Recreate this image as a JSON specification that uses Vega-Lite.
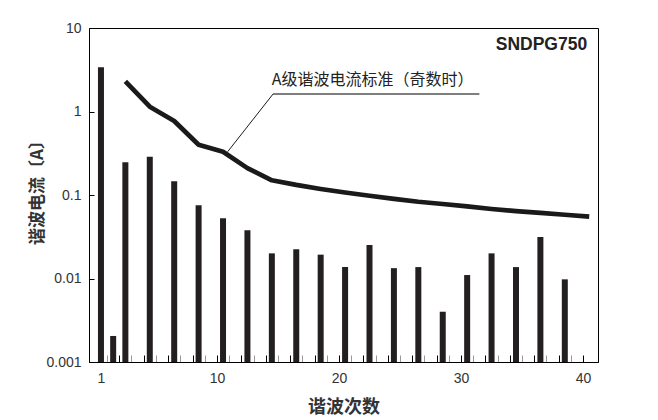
{
  "$schema": "https://vega.github.io/schema/vega-lite/v6.json",
  "width": 509,
  "height": 334,
  "autosize": {"type": "none"},
  "padding": {"left": 89, "top": 28, "right": 60, "bottom": 58},
  "background": "white",
  "view": {"stroke": "#000000", "strokeWidth": 1, "fill": "white"},
  "config": {
    "view": {"stroke": "#000000", "strokeWidth": 1},
    "font": "Liberation Sans",
    "axisX": {
      "titleFont": "Noto Sans CJK SC", "titleFontSize": 18, "titleFontWeight": "bold", "titleColor": "#333333",
      "titlePadding": 13, "labelOverlap": false, "labelFlush": false,
      "labelFontSize": 14, "labelColor": "#333333", "labelPadding": 16,
      "tickSize": -7, "tickWidth": 1, "domainColor": "#000000", "grid": false
    },
    "axisY": {
      "titleFont": "Noto Sans CJK SC", "titleFontSize": 17, "titleFontWeight": "bold", "titleColor": "#333333",
      "titleX": -52, "titleY": 160, "titleBaseline": "middle", "titleAlign": "center", "titleAngle": -90,
      "labelOverlap": false, "labelFontSize": 14, "labelColor": "#333333", "labelPadding": 13,
      "tickSize": -5, "tickColor": "#000000", "domainColor": "#000000", "grid": false
    }
  },
  "datasets": {
    "bars": [
      {"h": 1, "v": 3.38}, {"h": 2, "v": 0.00205}, {"h": 3, "v": 0.247}, {"h": 5, "v": 0.288},
      {"h": 7, "v": 0.146}, {"h": 9, "v": 0.0753}, {"h": 11, "v": 0.0526}, {"h": 13, "v": 0.0378},
      {"h": 15, "v": 0.020}, {"h": 17, "v": 0.0224}, {"h": 19, "v": 0.0193}, {"h": 21, "v": 0.0137},
      {"h": 23, "v": 0.0252}, {"h": 25, "v": 0.0133}, {"h": 27, "v": 0.0137}, {"h": 29, "v": 0.0040},
      {"h": 31, "v": 0.0110}, {"h": 33, "v": 0.0200}, {"h": 35, "v": 0.0137}, {"h": 37, "v": 0.0314},
      {"h": 39, "v": 0.00977}
    ],
    "limit": [
      {"h": 3, "v": 2.3}, {"h": 5, "v": 1.14}, {"h": 7, "v": 0.77}, {"h": 9, "v": 0.40},
      {"h": 11, "v": 0.33}, {"h": 13, "v": 0.21}, {"h": 15, "v": 0.15}, {"h": 17, "v": 0.132},
      {"h": 19, "v": 0.118}, {"h": 21, "v": 0.107}, {"h": 23, "v": 0.098}, {"h": 25, "v": 0.090},
      {"h": 27, "v": 0.083}, {"h": 29, "v": 0.078}, {"h": 31, "v": 0.073}, {"h": 33, "v": 0.068},
      {"h": 35, "v": 0.064}, {"h": 37, "v": 0.061}, {"h": 39, "v": 0.058}, {"h": 41, "v": 0.055}
    ],
    "notes": [
      {"label": "A级谐波电流标准（奇数时）", "model": "SNDPG750"}
    ]
  },
  "layer": [
    {
      "data": {"name": "bars"},
      "mark": {"type": "bar", "width": 6, "color": "#231f20"},
      "encoding": {
        "x": {"field": "h", "type": "quantitative", "scale": {"domain": [0.43, 41.31], "nice": false, "zero": false},
          "axis": {"title": "谐波次数", "values": [1, 1.5, 2.5, 3.5, 4.5, 5.5, 6.5, 7.5, 8.5, 9.5, 10.5, 11.5, 12.5, 13.5, 14.5, 15.5, 16.5, 17.5, 18.5, 19.5, 20.5, 21.5, 22.5, 23.5, 24.5, 25.5, 26.5, 27.5, 28.5, 29.5, 30.5, 31.5, 32.5, 33.5, 34.5, 35.5, 36.5, 37.5, 38.5, 39.5, 40.5], "labelExpr": "datum.value == 1 ? '1' : (datum.value % 10 == 0.5 ? format(datum.value - 0.5, 'd') : '')", "labelOverlap": false, "tickColor": {"condition": {"test": "floor(datum.value) % 2 == 1", "value": "#999999"}, "value": "#000000"}}},
        "y": {"field": "v", "type": "quantitative", "scale": {"type": "log", "domain": [0.001, 10], "nice": false},
          "axis": {"title": "谐波电流〔A〕", "values": [0.001, 0.01, 0.1, 1, 10], "format": "~g"}},
        "y2": {"datum": 0.001}
      }
    },
    {
      "data": {"name": "limit"},
      "mark": {"type": "line", "color": "#1a1a1a", "strokeWidth": 4.7, "strokeJoin": "round"},
      "encoding": {
        "x": {"field": "h", "type": "quantitative",
          "axis": {"title": "谐波次数", "values": [1, 1.5, 2.5, 3.5, 4.5, 5.5, 6.5, 7.5, 8.5, 9.5, 10.5, 11.5, 12.5, 13.5, 14.5, 15.5, 16.5, 17.5, 18.5, 19.5, 20.5, 21.5, 22.5, 23.5, 24.5, 25.5, 26.5, 27.5, 28.5, 29.5, 30.5, 31.5, 32.5, 33.5, 34.5, 35.5, 36.5, 37.5, 38.5, 39.5, 40.5], "labelExpr": "datum.value == 1 ? '1' : (datum.value % 10 == 0.5 ? format(datum.value - 0.5, 'd') : '')", "labelOverlap": false, "tickColor": {"condition": {"test": "floor(datum.value) % 2 == 1", "value": "#999999"}, "value": "#000000"}}},
        "y": {"field": "v", "type": "quantitative",
          "axis": {"title": "谐波电流〔A〕", "values": [0.001, 0.01, 0.1, 1, 10], "format": "~g"}}
      }
    },
    {
      "data": {"name": "notes"},
      "mark": {"type": "rule", "color": "#000000", "strokeWidth": 1.1},
      "encoding": {
        "x": {"datum": 15.1, "type": "quantitative", "axis": {"title": "谐波次数", "values": [1, 1.5, 2.5, 3.5, 4.5, 5.5, 6.5, 7.5, 8.5, 9.5, 10.5, 11.5, 12.5, 13.5, 14.5, 15.5, 16.5, 17.5, 18.5, 19.5, 20.5, 21.5, 22.5, 23.5, 24.5, 25.5, 26.5, 27.5, 28.5, 29.5, 30.5, 31.5, 32.5, 33.5, 34.5, 35.5, 36.5, 37.5, 38.5, 39.5, 40.5], "labelExpr": "datum.value == 1 ? '1' : (datum.value % 10 == 0.5 ? format(datum.value - 0.5, 'd') : '')", "labelOverlap": false, "tickColor": {"condition": {"test": "floor(datum.value) % 2 == 1", "value": "#999999"}, "value": "#000000"}}},
        "x2": {"datum": 32.0},
        "y": {"datum": 1.62, "type": "quantitative", "axis": {"title": "谐波电流〔A〕", "values": [0.001, 0.01, 0.1, 1, 10], "format": "~g"}}
      }
    },
    {
      "data": {"name": "notes"},
      "mark": {"type": "rule", "color": "#000000", "strokeWidth": 0.9},
      "encoding": {
        "x": {"datum": 15.1, "type": "quantitative", "axis": {"title": "谐波次数", "values": [1, 1.5, 2.5, 3.5, 4.5, 5.5, 6.5, 7.5, 8.5, 9.5, 10.5, 11.5, 12.5, 13.5, 14.5, 15.5, 16.5, 17.5, 18.5, 19.5, 20.5, 21.5, 22.5, 23.5, 24.5, 25.5, 26.5, 27.5, 28.5, 29.5, 30.5, 31.5, 32.5, 33.5, 34.5, 35.5, 36.5, 37.5, 38.5, 39.5, 40.5], "labelExpr": "datum.value == 1 ? '1' : (datum.value % 10 == 0.5 ? format(datum.value - 0.5, 'd') : '')", "labelOverlap": false, "tickColor": {"condition": {"test": "floor(datum.value) % 2 == 1", "value": "#999999"}, "value": "#000000"}}},
        "x2": {"datum": 11.38},
        "y": {"datum": 1.62, "type": "quantitative", "axis": {"title": "谐波电流〔A〕", "values": [0.001, 0.01, 0.1, 1, 10], "format": "~g"}},
        "y2": {"datum": 0.33}
      }
    },
    {
      "data": {"name": "notes"},
      "mark": {"type": "text", "font": "Noto Sans CJK SC", "fontSize": 16, "align": "left", "baseline": "middle", "color": "#222222"},
      "encoding": {
        "text": {"field": "label"},
        "x": {"datum": 15.0, "type": "quantitative", "axis": {"title": "谐波次数", "values": [1, 1.5, 2.5, 3.5, 4.5, 5.5, 6.5, 7.5, 8.5, 9.5, 10.5, 11.5, 12.5, 13.5, 14.5, 15.5, 16.5, 17.5, 18.5, 19.5, 20.5, 21.5, 22.5, 23.5, 24.5, 25.5, 26.5, 27.5, 28.5, 29.5, 30.5, 31.5, 32.5, 33.5, 34.5, 35.5, 36.5, 37.5, 38.5, 39.5, 40.5], "labelExpr": "datum.value == 1 ? '1' : (datum.value % 10 == 0.5 ? format(datum.value - 0.5, 'd') : '')", "labelOverlap": false, "tickColor": {"condition": {"test": "floor(datum.value) % 2 == 1", "value": "#999999"}, "value": "#000000"}}},
        "y": {"datum": 2.38, "type": "quantitative", "axis": {"title": "谐波电流〔A〕", "values": [0.001, 0.01, 0.1, 1, 10], "format": "~g"}}
      }
    },
    {
      "data": {"name": "notes"},
      "mark": {"type": "text", "font": "Liberation Sans", "fontSize": 17.5, "fontWeight": "bold", "align": "right", "baseline": "middle", "color": "#222222"},
      "encoding": {
        "text": {"field": "model"},
        "x": {"datum": 40.83, "type": "quantitative", "axis": {"title": "谐波次数", "values": [1, 1.5, 2.5, 3.5, 4.5, 5.5, 6.5, 7.5, 8.5, 9.5, 10.5, 11.5, 12.5, 13.5, 14.5, 15.5, 16.5, 17.5, 18.5, 19.5, 20.5, 21.5, 22.5, 23.5, 24.5, 25.5, 26.5, 27.5, 28.5, 29.5, 30.5, 31.5, 32.5, 33.5, 34.5, 35.5, 36.5, 37.5, 38.5, 39.5, 40.5], "labelExpr": "datum.value == 1 ? '1' : (datum.value % 10 == 0.5 ? format(datum.value - 0.5, 'd') : '')", "labelOverlap": false, "tickColor": {"condition": {"test": "floor(datum.value) % 2 == 1", "value": "#999999"}, "value": "#000000"}}},
        "y": {"datum": 6.25, "type": "quantitative", "axis": {"title": "谐波电流〔A〕", "values": [0.001, 0.01, 0.1, 1, 10], "format": "~g"}}
      }
    }
  ]
}
